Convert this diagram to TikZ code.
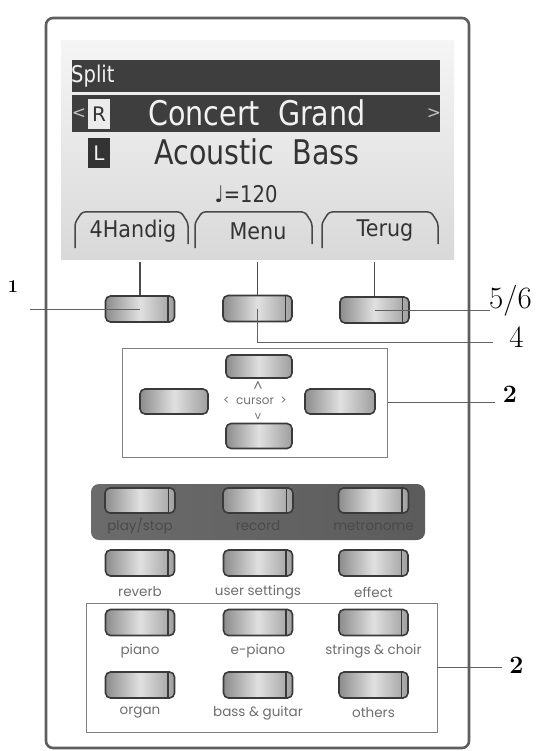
\documentclass[tikz,border=0pt]{standalone}
\usepackage{fontspec}
\newfontfamily\lcd{DejaVu Sans}
\newfontfamily\pnl{Poppins}
\usetikzlibrary{calc}
\definecolor{lcdbar}{HTML}{3E3E3E}
\definecolor{lcdtxt}{HTML}{F2F2F2}
\definecolor{lcddark}{HTML}{333333}
\definecolor{frm}{HTML}{5E5E5E}
\definecolor{btnline}{HTML}{3A3A3A}
\definecolor{lbl}{HTML}{6E6E6E}
\definecolor{lbldark}{HTML}{4A4A4A}
\tikzset{
  frameline/.style={draw=frm, line width=2.6pt, rounded corners=7pt},
  btn/.style={draw=btnline, line width=1.6pt, rounded corners=5pt,
    minimum width=69pt, minimum height=26pt, inner sep=0pt,
    left color=black!45, right color=black!38, middle color=black!12},
  btnbar/.style={btn, path picture={\draw[btnline,line width=1.3pt]
    ([xshift=-6.5pt]path picture bounding box.north east) --
    ([xshift=-6.5pt]path picture bounding box.south east);}},
  gbox/.style={draw=black!50, line width=0.8pt, inner sep=0pt},
  leader/.style={draw=black!62, line width=0.9pt},
  stub/.style={draw=black!70, line width=1.8pt},
  tab/.style={draw=black!72, line width=1.5pt, rounded corners=3pt},
  tabtxt/.style={font=\lcd\fontsize{23}{25}\selectfont, text=lcddark, inner sep=0pt},
  plbl/.style={font=\pnl\fontsize{13.5}{15}\selectfont, text=lbl, inner sep=0pt},
  pdlbl/.style={plbl, text=lbldark},
  numlbl/.style={font=\fontsize{31}{33}\selectfont, inner sep=0pt, anchor=base},
  numbold/.style={font=\bfseries\fontsize{25}{27}\selectfont, inner sep=0pt, anchor=base},
}
\begin{document}
\begin{tikzpicture}[x=1pt,y=-1pt]
\useasboundingbox (0,0) rectangle (539,751);
\fill[white] (0,0) rectangle (539,751);

% device frame
\draw[frameline] (46,18) rectangle (469,748);

% screen
\node[minimum width=393pt, minimum height=218pt, inner sep=0pt,
      top color=black!4, bottom color=black!15, draw=none] (scr) at (257.5,150) {};
\fill[lcdbar] (72,60) rectangle (440,92);
\fill[lcdbar] (72,95) rectangle (440,132);
\node[anchor=west, inner sep=0pt, text=lcdtxt, font=\lcd\fontsize{23}{24}\selectfont] (split) at (71,76) {\scalebox{0.85}[1]{Split}};
\node[inner sep=0pt, text=lcdtxt!80!black, font=\lcd\fontsize{17}{18}\selectfont] (lt) at (79,114) {<};
\node[inner sep=0pt, text=lcdtxt!80!black, font=\lcd\fontsize{17}{18}\selectfont] (gt) at (434,114) {>};
\node[fill=black!8, minimum width=22pt, minimum height=30pt, inner sep=0pt, text=lcddark,
      font=\lcd\fontsize{20}{22}\selectfont] (rbox) at (99,114) {R};
\node[inner sep=0pt, text=lcdtxt, font=\lcd\fontsize{34}{36}\selectfont] (cg) at (257,113) {\scalebox{0.84}[1]{Concert\ \ Grand}};
\node[fill=lcddark, minimum width=22pt, minimum height=30pt, inner sep=0pt, text=lcdtxt,
      font=\lcd\fontsize{20}{22}\selectfont] (lbox) at (99,153) {L};
\node[inner sep=0pt, text=lcddark, font=\lcd\fontsize{34}{36}\selectfont] (ab) at (257,152) {\scalebox{0.84}[1]{Acoustic\ \ Bass}};
\node[inner sep=0pt, text=lcddark, font=\lcd\fontsize{23}{25}\selectfont] (tempo) at (246,194) {\scalebox{0.85}[1]{♩=120}};

% tabs
\draw[tab] (75,248) -- (75,223) -- (82,212) -- (181,212) -- (188,223) -- (188,244);
\draw[tab] (195,248) -- (195,223) -- (202,212) -- (305,212) -- (312,223) -- (312,244);
\draw[tab] (322,248) -- (322,223) -- (329,212) -- (431,212) -- (438,223) -- (438,244);
\node[tabtxt] (t1) at (133,231) {\scalebox{0.9}[1]{4Handig}};
\node[tabtxt] (t2) at (258,231) {\scalebox{0.9}[1]{Menu}};
\node[tabtxt] (t3) at (385,231) {\scalebox{0.9}[1]{Terug}};

% top row buttons
\node[btnbar] (b1) at (140,309) {};
\node[btnbar] (b2) at (257.5,308.5) {};
\node[btnbar] (b3) at (374.5,310) {};
\draw[stub] ([yshift=-3pt]scr.south -| b1.north) -- (b1.north);
\draw[stub] ([yshift=-3pt]scr.south -| b2.north) -- (b2.north);
\draw[stub] ([yshift=-3pt]scr.south -| b3.north) -- (b3.north);

% cursor block
\node[gbox, minimum width=265pt, minimum height=109pt] (cbox) at (255,402.5) {};
\node[btn, minimum width=66pt, minimum height=23pt] (cu) at (259,366.5) {};
\node[btn, minimum width=68pt, minimum height=25pt] (cl) at (174,401.5) {};
\node[btn, minimum width=70pt, minimum height=25pt] (cr) at (340,401.5) {};
\node[btn, minimum width=66pt, minimum height=25pt] (cd) at (259,436) {};
\node[plbl, text=black!55, font=\pnl\fontsize{12}{14}\selectfont] (curs) at (255,401) {<\ \ cursor\ \ >};
\node[plbl, text=black!55, font=\pnl\fontsize{14}{14}\selectfont] (cup) at (258,387) {\^{}};
\node[plbl, text=black!55, font=\pnl\fontsize{11}{11}\selectfont] (cdn) at (258,416) {v};

% dark panel
\node[minimum width=334pt, minimum height=56pt, inner sep=0pt, rounded corners=8pt,
      left color=black!58, middle color=black!36, right color=black!64] (dpanel) at (258,512) {};
\node[btnbar, minimum width=70pt, minimum height=25pt] (ps) at (140,500.5) {};
\node[btnbar, minimum width=70pt, minimum height=25pt] (rec) at (258,500.5) {};
\node[btnbar, minimum width=70pt, minimum height=25pt] (met) at (373.5,500.5) {};
\node[pdlbl] (lps) at (140,526) {play/stop};
\node[pdlbl] (lrec) at (258,526) {record};
\node[pdlbl] (lmet) at (373.5,526) {metronome};

% row 2
\node[btnbar] (rev) at (140,563) {};
\node[btnbar] (us) at (258,563) {};
\node[btnbar] (eff) at (373.5,563) {};
\node[plbl] (lrev) at (140,592) {reverb};
\node[plbl] (lus) at (258,592) {user settings};
\node[plbl] (leff) at (373.5,592) {effect};

% instrument block
\node[gbox, minimum width=351pt, minimum height=129pt] (ibox) at (261.5,667.5) {};
\node[btnbar] (pia) at (140,622.5) {};
\node[btnbar] (epi) at (258,622.5) {};
\node[btnbar] (str) at (373.5,622.5) {};
\node[plbl] (lpia) at (140,651) {piano};
\node[plbl] (lepi) at (258,651) {e-piano};
\node[plbl] (lstr) at (373.5,651) {strings \& choir};
\node[btnbar] (org) at (140,685) {};
\node[btnbar] (bas) at (258,685) {};
\node[btnbar] (oth) at (373.5,685) {};
\node[plbl] (lorg) at (140,713) {organ};
\node[plbl] (lbas) at (258,713) {bass \& guitar};
\node[plbl] (loth) at (373.5,713) {others};

% callouts
\coordinate (e1) at (30,309);
\coordinate (e56) at (490,310);
\coordinate (e4) at (493,342);
\coordinate (e2a) at (495,402.5);
\coordinate (e2b) at (502,667.5);
\draw[leader] (e1) -- (b1.center);
\draw[leader] (b3.center) -- (e56);
\draw[leader] (b2.center) |- (e4);
\draw[leader] (cbox.east) -- (e2a);
\draw[leader] (ibox.east) -- (e2b);
\node[numbold, font=\bfseries\fontsize{18}{20}\selectfont] (n1) at (13,292) {1};
\node[numlbl] (n56) at (510.5,308) {5/6};
\node[numlbl] (n4) at (516.5,347) {4};
\node[numbold] (n2a) at (510,402) {2};
\node[numbold] (n2b) at (516.5,673) {2};
\end{tikzpicture}
\end{document}
